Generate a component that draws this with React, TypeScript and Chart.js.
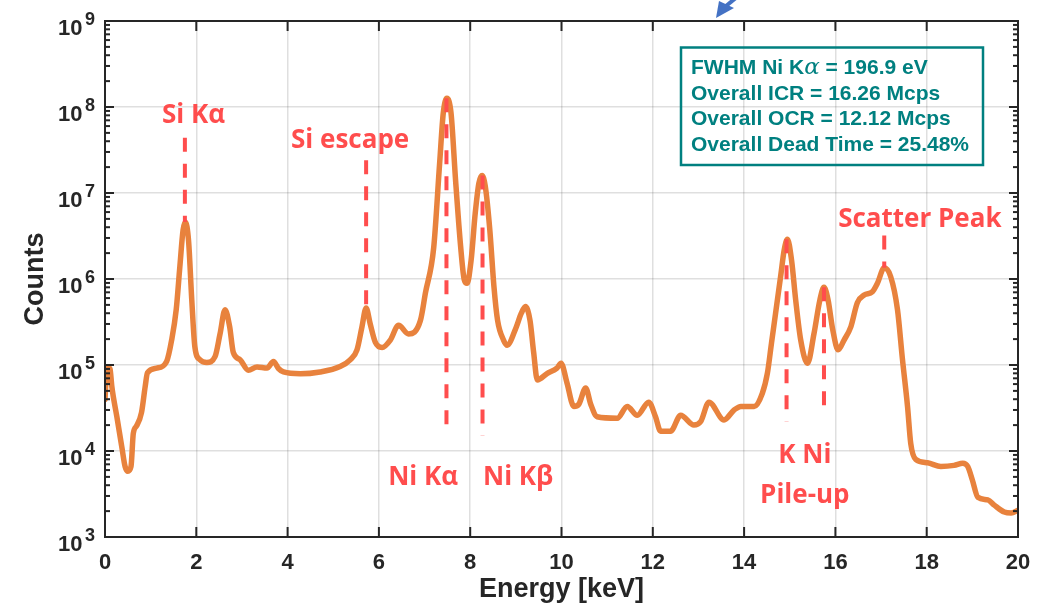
import React, { useEffect, useRef } from 'react';
import { Chart, registerables } from 'chart.js';

Chart.register(...registerables);

// Measured spectrum: photon energy (keV) and detector counts
const energy = [
  0.0, 0.03, 0.08, 0.11, 0.15, 0.26, 0.37, 0.44, 0.5, 0.57, 0.62, 0.69, 0.8, 0.88, 0.93,
  1.13, 1.35, 1.46, 1.56, 1.64, 1.71, 1.76, 1.83, 1.9, 1.97, 2.08, 2.23, 2.41, 2.52, 2.63,
  2.73, 2.81, 2.96, 3.14, 3.33, 3.55, 3.69, 3.8, 3.91, 4.28, 4.71, 5.15, 5.37, 5.52, 5.63,
  5.72, 5.81, 5.92, 6.07, 6.25, 6.43, 6.65, 6.91, 7.02, 7.2, 7.33, 7.41, 7.49, 7.58, 7.68,
  7.79, 7.87, 7.93, 8.02, 8.11, 8.19, 8.26, 8.33, 8.43, 8.52, 8.6, 8.73, 8.81, 8.99, 9.12,
  9.21, 9.31, 9.39, 9.47, 9.69, 9.9, 9.99, 10.12, 10.27, 10.38, 10.53, 10.64, 10.78, 11.22,
  11.44, 11.66, 11.91, 12.06, 12.17, 12.39, 12.61, 12.9, 13.05, 13.23, 13.56, 13.78, 13.93,
  14.22, 14.4, 14.51, 14.6, 14.69, 14.8, 14.88, 14.95, 15.04, 15.13, 15.24, 15.39, 15.53,
  15.66, 15.75, 15.84, 15.94, 16.06, 16.19, 16.34, 16.48, 16.63, 16.81, 16.92, 17.07, 17.21,
  17.36, 17.47, 17.58, 17.65, 17.76, 18.02, 18.31, 18.6, 18.79, 18.9, 19.0, 19.12, 19.34,
  19.48, 19.7, 19.85, 20.0,
];
const counts = [
  4.0e4, 7.5e4, 9.3e4, 9.0e4, 5.6e4, 2.5e4, 1.1e4, 6.6e3, 5.8e3, 6.6e3, 1.6e4, 1.95e4, 2.8e4, 5.6e4, 8.1e4,
  9.2e4, 1.1e5, 1.95e5, 4.4e5, 1.4e6, 3.7e6, 4.6e6, 2.8e6, 5.8e5, 1.6e5, 1.15e5, 1.07e5, 1.25e5, 2.3e5, 4.4e5,
  2.8e5, 1.4e5, 1.15e5, 8.7e4, 9.5e4, 9.2e4, 1.1e5, 9.1e4, 8.3e4, 7.9e4, 8.3e4, 9.6e4, 1.15e5, 1.5e5, 2.8e5,
  4.6e5, 3.0e5, 1.85e5, 1.6e5, 1.95e5, 2.9e5, 2.3e5, 3.3e5, 6.9e5, 2.3e6, 2.2e7, 8.5e7, 1.26e8, 8.5e7, 1.4e7,
  2.4e6, 9.8e5, 8.9e5, 1.65e6, 5.8e6, 1.3e7, 1.6e7, 1.2e7, 3.7e6, 8.2e5, 3.3e5, 1.95e5, 1.7e5, 2.6e5, 4.0e5,
  4.8e5, 3.3e5, 1.4e5, 6.7e4, 8.0e4, 9.2e4, 1.05e5, 6.2e4, 3.3e4, 3.5e4, 5.4e4, 3.5e4, 2.5e4, 2.4e4,
  3.3e4, 2.6e4, 3.7e4, 2.5e4, 1.7e4, 1.7e4, 2.6e4, 2.0e4, 2.2e4, 3.7e4, 2.3e4, 3.0e4, 3.3e4,
  3.3e4, 4.7e4, 8.0e4, 1.8e5, 4.0e5, 1.07e6, 2.2e6, 2.9e6, 1.65e6, 5.7e5, 1.95e5, 1.05e5, 2.3e5,
  5.7e5, 8.0e5, 5.7e5, 2.6e5, 1.5e5, 1.95e5, 2.8e5, 5.3e5, 6.5e5, 7.1e5, 8.9e5, 1.35e6, 1.07e6,
  4.4e5, 1.15e5, 3.3e4, 1.23e4, 8.0e3, 7.3e3, 6.6e3, 6.8e3, 7.2e3, 6.6e3, 4.6e3, 2.9e3, 2.7e3,
  2.35e3, 1.95e3, 1.9e3, 2.05e3,
];

// Peak markers: energy, and the count range the dashed line spans
const markerEnergy = [1.75, 5.72, 7.48, 8.27, 14.93, 15.75, 17.07];
const markerTop = [4.4e7, 2.4e7, 1.26e8, 1.6e7, 2.9e6, 8.0e5, 3.2e6];
const markerBottom = [4.6e6, 4.8e5, 2.0e4, 1.5e4, 2.2e4, 2.5e4, 1.35e6];

// Peak labels, anchored in data coordinates (text centre, baseline)
const labelText = ['Si K\u03b1', 'Si escape', 'Ni K\u03b1', 'Ni K\u03b2', 'K Ni', 'Pile-up', 'Scatter Peak'];
const labelEnergy = [1.94, 5.37, 6.97, 9.05, 15.33, 15.33, 17.85];
const labelCounts = [6.5e7, 3.3e7, 4.0e3, 4.0e3, 7.2e3, 2.5e3, 4.0e6];

// Axis ticks
const xTicks = [0, 2, 4, 6, 8, 10, 12, 14, 16, 18, 20];
const decades = [3, 4, 5, 6, 7, 8, 9];

// Acquisition summary
const infoLines = [
  ['FWHM Ni K', '\u03b1', ' = 196.9 eV'],
  ['Overall ICR = 16.26 Mcps'],
  ['Overall OCR = 12.12 Mcps'],
  ['Overall Dead Time = 25.48%'],
];

const AXIS = '#262626';
const GRID = 'rgba(38,38,38,0.15)';
const LINE = '#E8823D';
const RED = '#FF4D4D';
const TEAL = '#008080';
const SANS = '"Liberation Sans", Arial, sans-serif';

const overlay = {
  id: 'overlay',
  afterDraw(chart: any) {
    const { ctx, chartArea: a } = chart;
    const xs = chart.scales.x;
    const ys = chart.scales.y;
    ctx.save();

    // axes box with inward ticks
    ctx.strokeStyle = AXIS;
    ctx.lineWidth = 2;
    ctx.strokeRect(a.left, a.top, a.right - a.left, a.bottom - a.top);
    const seg = (x1: number, y1: number, x2: number, y2: number) => {
      ctx.beginPath();
      ctx.moveTo(x1, y1);
      ctx.lineTo(x2, y2);
      ctx.stroke();
    };
    xTicks.slice(1, -1).forEach((v) => {
      const px = xs.getPixelForValue(v);
      seg(px, a.bottom, px, a.bottom - 10);
      seg(px, a.top, px, a.top + 10);
    });
    decades.forEach((e, i) => {
      const py = ys.getPixelForValue(Math.pow(10, e));
      seg(a.left, py, a.left + 9, py);
      seg(a.right, py, a.right - 9, py);
      if (i < decades.length - 1) {
        for (let m = 2; m <= 9; m++) {
          const pm = ys.getPixelForValue(m * Math.pow(10, e));
          seg(a.left, pm, a.left + 5, pm);
          seg(a.right, pm, a.right - 5, pm);
        }
      }
    });

    // y tick labels: 10 with a raised exponent
    ctx.fillStyle = AXIS;
    ctx.textAlign = 'left';
    ctx.textBaseline = 'alphabetic';
    decades.forEach((e) => {
      const py = ys.getPixelForValue(Math.pow(10, e));
      ctx.font = `bold 22px ${SANS}`;
      ctx.fillText('10', a.left - 47, py + 13.5);
      ctx.font = `bold 18px ${SANS}`;
      ctx.fillText(String(e), a.left - 20, py + 3.5);
    });

    // peak labels
    ctx.fillStyle = RED;
    ctx.textAlign = 'center';
    ctx.font = `bold 26px "Open Sans", sans-serif`;
    labelText.forEach((t, i) => {
      ctx.fillText(t, xs.getPixelForValue(labelEnergy[i]), ys.getPixelForValue(labelCounts[i]));
    });

    // summary box
    ctx.strokeStyle = TEAL;
    ctx.lineWidth = 2.5;
    ctx.strokeRect(681, 47.5, 302, 117.5);
    ctx.fillStyle = TEAL;
    ctx.textAlign = 'left';
    infoLines.forEach((parts, i) => {
      let x = 691;
      const y = 74 + i * 25.6;
      parts.forEach((p, j) => {
        ctx.font = j === 1 ? `italic 23px "DejaVu Serif", serif` : `bold 21px ${SANS}`;
        ctx.fillText(p, x, y);
        x += ctx.measureText(p).width;
      });
    });

    // pointer arrow entering from above
    ctx.fillStyle = '#4472C4';
    ctx.strokeStyle = '#4472C4';
    ctx.lineWidth = 4;
    seg(726, 6, 737, -3);
    ctx.beginPath();
    ctx.moveTo(716, 18);
    ctx.lineTo(719, 1);
    ctx.lineTo(734, 8);
    ctx.closePath();
    ctx.fill();

    ctx.restore();
  },
};

export default function App() {
  const ref = useRef<HTMLCanvasElement | null>(null);

  useEffect(() => {
    if (!ref.current) return;
    const spectrum = energy.map((e, i) => ({ x: e, y: counts[i] }));
    const markers = markerEnergy.map((e, i) => ({
      data: [
        { x: e, y: markerTop[i] },
        { x: e, y: markerBottom[i] },
      ],
      borderColor: RED,
      borderWidth: 4,
      borderDash: [14, 12],
      borderCapStyle: 'butt',
      pointRadius: 0,
      order: 1,
    }));

    const chart = new Chart(ref.current, {
      type: 'line',
      data: {
        datasets: [
          {
            data: spectrum,
            borderColor: LINE,
            borderWidth: 5.5,
            pointRadius: 0,
            cubicInterpolationMode: 'monotone',
            borderJoinStyle: 'round',
            borderCapStyle: 'round',
            order: 2,
          },
          ...markers,
        ] as any,
      },
      options: {
        animation: false,
        responsive: false,
        maintainAspectRatio: false,
        layout: { padding: { top: 21, right: 38, left: 0, bottom: 0 } },
        plugins: { legend: { display: false }, tooltip: { enabled: false } },
        scales: {
          x: {
            type: 'linear',
            min: 0,
            max: 20,
            afterBuildTicks: (s: any) => {
              s.ticks = xTicks.map((v) => ({ value: v }));
            },
            afterFit: (s: any) => {
              s.height = 75;
            },
            ticks: {
              color: AXIS,
              padding: 13,
              maxRotation: 0,
              font: { family: SANS, size: 22, weight: 'bold' },
            },
            grid: { color: GRID, lineWidth: 1.5, drawTicks: false },
            border: { display: false },
            title: {
              display: true,
              text: 'Energy [keV]',
              color: AXIS,
              font: { family: SANS, size: 27, weight: 'bold' },
              padding: { top: 0, bottom: 6 },
            },
          },
          y: {
            type: 'logarithmic',
            min: 1e3,
            max: 1e9,
            afterBuildTicks: (s: any) => {
              s.ticks = decades.map((e) => ({ value: Math.pow(10, e) }));
            },
            afterFit: (s: any) => {
              s.width = 105;
            },
            ticks: { display: false },
            grid: { color: GRID, lineWidth: 1.5, drawTicks: false },
            border: { display: false },
            title: {
              display: true,
              text: 'Counts',
              color: AXIS,
              font: { family: SANS, size: 27, weight: 'bold' },
              padding: { top: 19, bottom: 0 },
            },
          },
        },
      } as any,
      plugins: [overlay],
    });
    return () => chart.destroy();
  }, []);

  return (
    <div style={{ position: 'fixed', left: 0, top: 0, width: 1056, height: 612, background: '#fff' }}>
      <canvas ref={ref} width={1056} height={612} />
    </div>
  );
}
